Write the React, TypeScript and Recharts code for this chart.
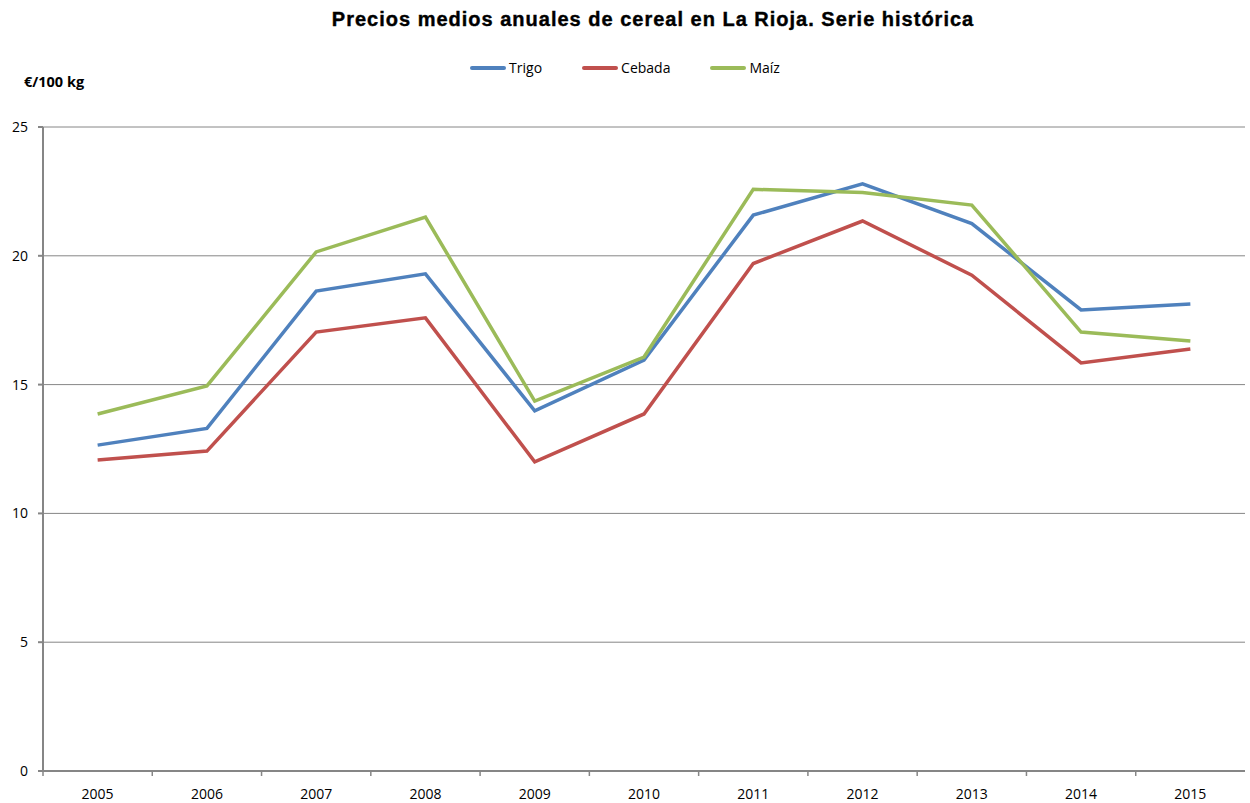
import { LineChart, Line, XAxis, YAxis, CartesianGrid } from 'recharts';

const years = [2005, 2006, 2007, 2008, 2009, 2010, 2011, 2012, 2013, 2014, 2015];
const trigo = [12.65, 13.3, 18.63, 19.3, 13.98, 15.95, 21.58, 22.79, 21.25, 17.9, 18.13];
const cebada = [12.07, 12.42, 17.04, 17.59, 12.0, 13.86, 19.7, 21.35, 19.25, 15.84, 16.38];
const maiz = [13.86, 14.95, 20.15, 21.5, 14.36, 16.07, 22.58, 22.46, 21.97, 17.04, 16.69];
const yTicks = [0, 5, 10, 15, 20, 25];

const series = [
  { key: 'trigo', name: 'Trigo', color: '#4F81BD' },
  { key: 'cebada', name: 'Cebada', color: '#C0504D' },
  { key: 'maiz', name: 'Maíz', color: '#9BBB59' },
];

const data = years.map((y, i) => ({ year: y, trigo: trigo[i], cebada: cebada[i], maiz: maiz[i] }));

// ticks at every year (labels) and every half year (category boundary marks)
const xTicks: number[] = [];
years.forEach((y) => { xTicks.push(y - 0.5); xTicks.push(y); });

const font = '"Open Sans", "Liberation Sans", sans-serif';
const axisColor = '#868686';

function YearTick(props: any) {
  const { x, y, payload } = props;
  const v = payload.value;
  if (Number.isInteger(v)) {
    return (
      <text x={x} y={y + 28} textAnchor="middle" fontSize={14} fontFamily={font} fill="#000">
        {v}
      </text>
    );
  }
  return <line x1={x} x2={x} y1={y} y2={y + 5} stroke={axisColor} strokeWidth={1.5} />;
}

function LegendBox() {
  return (
    <div
      style={{
        position: 'absolute', top: 58, left: 0, width: 1250, display: 'flex', justifyContent: 'center',
        fontFamily: font, fontSize: 14,
      }}
    >
      {series.map((s, i) => (
        <div key={s.key} style={{ display: 'flex', alignItems: 'center', marginLeft: i === 0 ? 0 : 40 }}>
          <span style={{ display: 'inline-block', width: 36, height: 4, borderRadius: 2, background: s.color, marginRight: 3 }} />
          <span>{s.name}</span>
        </div>
      ))}
    </div>
  );
}

export default function App() {
  return (
    <div style={{ position: 'absolute', left: 0, top: 0, width: 1250, height: 803, background: '#fff' }}>
      <div
        style={{
          position: 'absolute', top: 8, left: 28, width: 1250, textAlign: 'center',
          fontFamily: '"Liberation Sans", Arial, sans-serif', fontWeight: 'bold', fontSize: 20,
          letterSpacing: 1, WebkitTextStroke: '0.4px #000',
        }}
      >
        Precios medios anuales de cereal en La Rioja. Serie histórica
      </div>
      <div style={{ position: 'absolute', top: 72, left: 24, fontFamily: font, fontWeight: 'bold', fontSize: 14.5 }}>
        €/100 kg
      </div>
      <LegendBox />
      <LineChart width={1250} height={803} data={data} margin={{ top: 127, right: 5, bottom: 0, left: 0 }}>
        <CartesianGrid vertical={false} stroke={axisColor} strokeWidth={1} />
        <XAxis
          dataKey="year"
          type="number"
          domain={[2004.5, 2015.5]}
          ticks={xTicks}
          interval={0}
          tick={<YearTick />}
          tickLine={false}
          tickSize={0}
          tickMargin={0}
          stroke={axisColor}
          strokeWidth={2}
          height={32}
        />
        <YAxis
          domain={[0, 25]}
          ticks={yTicks}
          width={43}
          tickSize={5}
          tickMargin={10}
          stroke={axisColor}
          strokeWidth={2}
          tick={{ fill: '#000', fontSize: 14, fontFamily: font }}
        />
        {series.map((s) => (
          <Line
            key={s.key}
            type="linear"
            dataKey={s.key}
            name={s.name}
            stroke={s.color}
            strokeWidth={3.5}
            dot={false}
            isAnimationActive={false}
          />
        ))}
      </LineChart>
    </div>
  );
}
